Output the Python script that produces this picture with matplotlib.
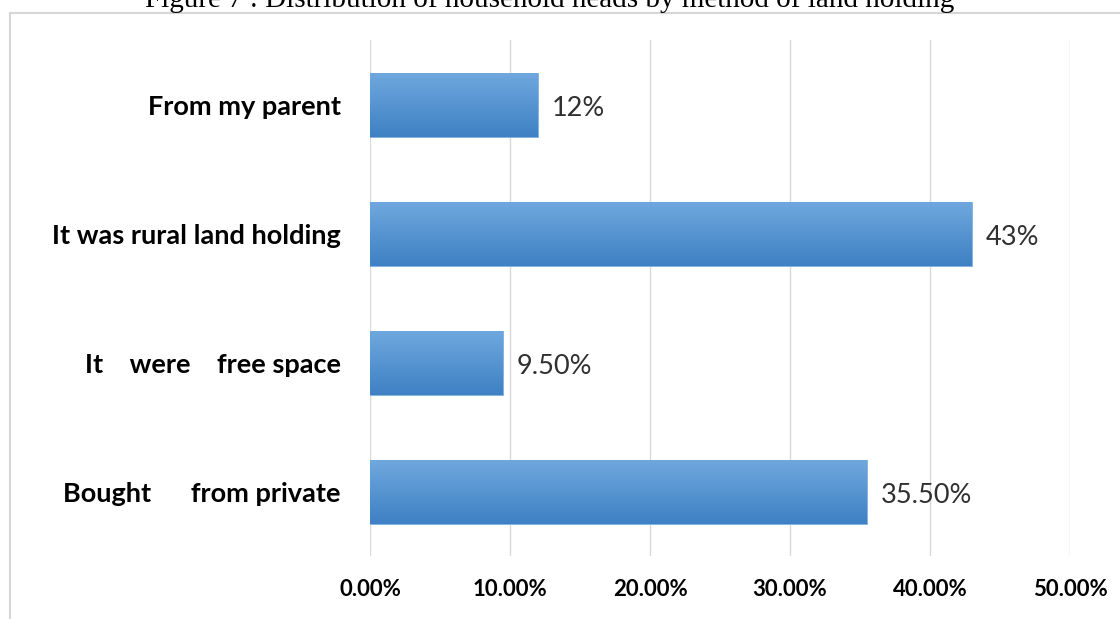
import numpy as np
import matplotlib.pyplot as plt
from matplotlib.patches import Rectangle
from matplotlib.ticker import FuncFormatter
from matplotlib.colors import LinearSegmentedColormap

categories = ["Bought      from private", "It    were    free space",
              "It was rural land holding", "From my parent"]
shares = [35.5, 9.5, 43, 12]
share_labels = ["35.50%", "9.50%", "43%", "12%"]
ticks = [0, 10, 20, 30, 40, 50]

title = "Figure 7 : Distribution of household heads by method of land holding"

fig = plt.figure(figsize=(11.2, 6.19), dpi=100)
ax = fig.add_axes([0.3304, 0.101, 0.625, 0.8336])

# outer chart frame
fig.patches.append(Rectangle((10 / 1120, -0.1), 1.2, 1 - 13 / 619 + 0.1,
                             transform=fig.transFigure, fill=False,
                             edgecolor="#d6d6d6", linewidth=1.5))

fig.text(550 / 1120, 1 - 7 / 619, title, ha="center", va="baseline",
         family="Liberation Serif", fontsize=21, color="black")

y = np.arange(len(categories))
bars = ax.barh(y, shares, height=0.5, color="#5b9bd5", zorder=2)

# light at the top, darker towards the bottom of each bar
grad = LinearSegmentedColormap.from_list("bar", ["#3f81c4", "#6fa8de"])
for b in bars:
    x0, y0 = b.get_x(), b.get_y()
    w, h = b.get_width(), b.get_height()
    im = ax.imshow(np.linspace(0, 1, 50).reshape(-1, 1), cmap=grad,
                   extent=[x0, x0 + w, y0, y0 + h], origin="lower",
                   aspect="auto", zorder=3)
    im.set_clip_path(b)
    b.set_edgecolor("#7fb0e0")
    b.set_linewidth(0.6)

for yi, v, lab in zip(y, shares, share_labels):
    ax.text(v + 0.95, yi - 0.03, lab, va="center", ha="left", fontsize=19.5,
            family="Lato", color="#303030")

ax.set_xlim(0, 50)
ax.set_ylim(-0.5, 3.5)
ax.set_xticks(ticks)
ax.xaxis.set_major_formatter(FuncFormatter(lambda v, p: "%.2f%%" % v))
ax.set_yticks(y)
ax.set_yticklabels(categories)
for t in ax.get_yticklabels():
    t.set_family("Lato")
    t.set_fontweight("bold")
    t.set_fontsize(19.5)
for t in ax.get_xticklabels():
    t.set_family("Lato")
    t.set_fontweight("bold")
    t.set_fontsize(16)
ax.tick_params(axis="y", length=0, pad=21)
ax.tick_params(axis="x", length=0, pad=16)
ax.grid(axis="x", color="#d9d9d9", linewidth=1, zorder=0)
ax.set_axisbelow(True)
for s in ax.spines.values():
    s.set_visible(False)

fig.savefig("out.png", dpi=100)
